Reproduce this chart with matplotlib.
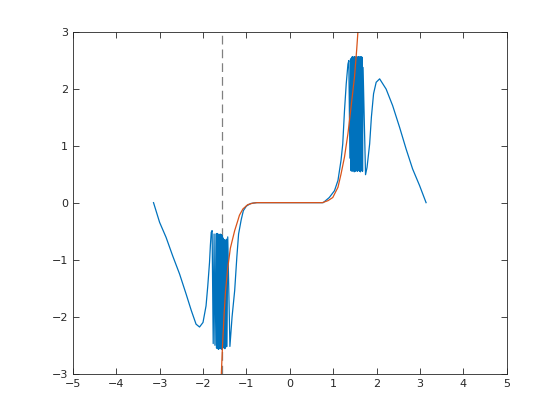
import numpy as np
import matplotlib
matplotlib.use('Agg')
import matplotlib.pyplot as plt

# blue curve (dense zigzag = the oscillating bands)
band_left_x = [-1.700, -1.688, -1.676, -1.664, -1.652, -1.640, -1.628, -1.616, -1.604, -1.592, -1.580,
               -1.568, -1.556, -1.544, -1.532, -1.520, -1.508, -1.496, -1.484, -1.472, -1.460, -1.448]
band_left_y = [-0.55, -2.55, -0.54, -2.56, -0.55, -2.57, -0.56, -2.55, -0.55, -2.56, -0.56,
               -2.57, -0.58, -2.55, -0.62, -2.54, -0.65, -2.56, -0.66, -2.53, -0.64, -2.52]
band_right_x = [1.412, 1.424, 1.436, 1.448, 1.460, 1.472, 1.484, 1.496, 1.508, 1.520, 1.532, 1.544,
                1.556, 1.568, 1.580, 1.592, 1.604, 1.616, 1.628, 1.640, 1.652, 1.664, 1.676, 1.688]
band_right_y = [0.56, 2.55, 0.55, 2.56, 0.57, 2.55, 0.54, 2.56, 0.55, 2.55, 0.56, 2.56,
                0.55, 2.55, 0.57, 2.56, 0.55, 2.55, 0.54, 2.56, 0.56, 2.55, 0.55, 2.37]

blue_x = ([-3.14, -3.00, -2.85, -2.70, -2.54, -2.39, -2.27, -2.16, -2.08, -2.00, -1.93, -1.89, -1.85,
           -1.83, -1.81, -1.79, -1.765, -1.745, -1.725]
          + band_left_x
          + [-1.43, -1.38, -1.33, -1.27, -1.22, -1.18, -1.12, -1.07, -1.00, -0.90, -0.77,
             0.77, 0.91, 1.03, 1.11, 1.18, 1.22, 1.26, 1.30, 1.34, 1.36, 1.385, 1.40]
          + band_right_x
          + [1.745, 1.78, 1.84, 1.88, 1.93, 1.99, 2.07, 2.22, 2.37, 2.53, 2.68, 2.83, 2.99, 3.14])
blue_y = ([0.0, -0.345, -0.61, -0.93, -1.25, -1.60, -1.89, -2.13, -2.18, -2.10, -1.81, -1.46, -1.05,
           -0.75, -0.52, -0.49, -2.47, -0.55, -2.50]
          + band_left_y
          + [-0.60, -2.52, -2.00, -1.54, -0.95, -0.55, -0.30, -0.14, -0.06, -0.015, 0.0,
             0.0, 0.09, 0.21, 0.39, 0.74, 1.03, 1.61, 2.08, 2.43, 2.49, 0.78, 2.52]
          + band_right_y
          + [0.49, 0.62, 1.03, 1.50, 1.91, 2.11, 2.17, 1.99, 1.70, 1.32, 0.94, 0.59, 0.30, 0.0])

# red curve
red_x = [-1.585, -1.58, -1.55, -1.51, -1.48, -1.43, -1.37, -1.27, -1.20, -1.16, -1.08, -0.97, -0.85, -0.75,
         0.75, 0.88, 0.99, 1.11, 1.18, 1.26, 1.34, 1.41, 1.49, 1.54, 1.57, 1.575]
red_y = [-3.6, -3.05, -2.5, -1.9, -1.54, -1.15, -0.80, -0.49, -0.32, -0.22, -0.11, -0.035, -0.008, 0.0,
         0.0, 0.035, 0.09, 0.27, 0.50, 0.80, 1.21, 1.67, 2.20, 2.67, 3.0, 3.6]

# dashed asymptote
vline_x = -np.pi / 2

x_ticks = [-5, -4, -3, -2, -1, 0, 1, 2, 3, 4, 5]
y_ticks = [-3, -2, -1, 0, 1, 2, 3]

axcol = (0.15, 0.15, 0.15)
plt.rcParams['font.family'] = 'DejaVu Sans'

fig = plt.figure(figsize=(5.6, 4.2), dpi=100)
ax = fig.add_axes([0.13, 0.11, 0.775, 0.815])

ax.plot([vline_x, vline_x], [y_ticks[0], y_ticks[-1]], color=(0.5, 0.5, 0.5), lw=0.9, dashes=(7, 4))
ax.plot(blue_x, blue_y, color='#0072BD', lw=0.9)
ax.plot(red_x, red_y, color='#D95319', lw=0.9)

ax.set_xlim(-5, 5)
ax.set_ylim(-3, 3)
ax.set_xticks(x_ticks)
ax.set_yticks(y_ticks)
ax.tick_params(direction='in', length=4, width=0.6, colors=axcol, labelsize=8,
               top=True, right=True)
for s in ax.spines.values():
    s.set_color(axcol)
    s.set_linewidth(0.6)

fig.savefig('out.png', dpi=100)
